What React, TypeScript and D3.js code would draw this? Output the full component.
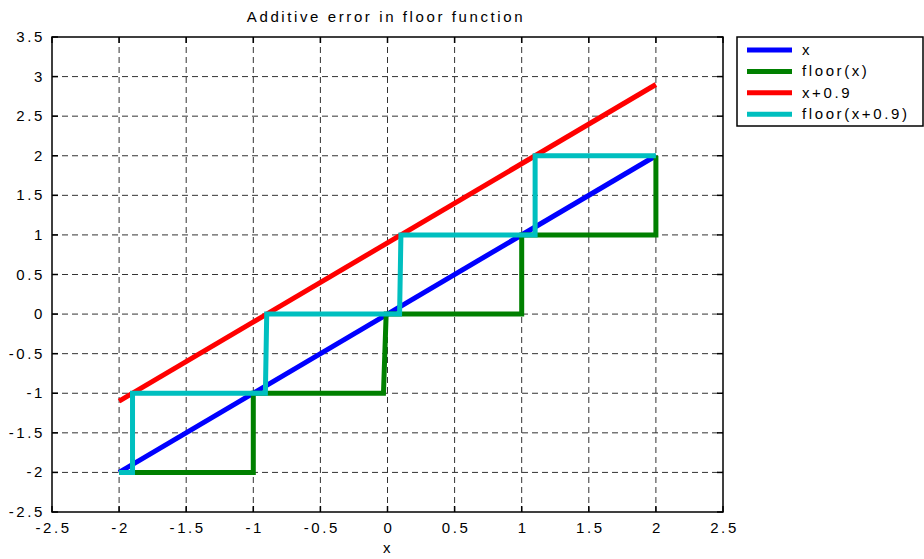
import React, { useEffect, useRef } from "react";
import * as d3 from "d3";

// MATLAB-style plot of floor() error, vertices

const xTicks = [-2.5, -2, -1.5, -1, -0.5, 0, 0.5, 1, 1.5, 2, 2.5];
const yTicks = [-2.5, -2, -1.5, -1, -0.5, 0, 0.5, 1, 1.5, 2, 2.5, 3, 3.5];

const lineX: [number, number][] = [[-2, -2], [2, 2]];
const floorX: [number, number][] = [
  [-2, -2], [-1, -2], [-1, -1], [-0.03, -1], [-0.01, 0],
  [1, 0], [1, 1], [2, 1], [2, 2],
];
const lineXPlus: [number, number][] = [[-2, -1.1], [2, 2.9]];
const floorXPlus: [number, number][] = [
  [-2, -2], [-1.9, -2], [-1.9, -1], [-0.91, -1], [-0.9, 0],
  [0.09, 0], [0.1, 1], [1.1, 1], [1.1, 2], [2, 2],
];

const seriesNames = ["x", "floor(x)", "x+0.9", "floor(x+0.9)"];
const seriesColors = ["#0000ff", "#008000", "#ff0000", "#00bfbf"];
const seriesData = [lineX, floorX, lineXPlus, floorXPlus];

const W = 924;
const H = 559;
const font = "'Liberation Sans', Arial, Helvetica, sans-serif";

export default function App() {
  const svgRef = useRef<SVGSVGElement>(null);

  useEffect(() => {
    const svg = d3.select(svgRef.current);
    svg.selectAll("*").remove();

    const left = 52, right = 723, top = 37, bottom = 512;
    const x = d3.scaleLinear().domain([-2.5, 2.5]).range([left, right]);
    const y = d3.scaleLinear().domain([-2.5, 3.5]).range([bottom, top]);

    svg.append("rect").attr("width", W).attr("height", H).attr("fill", "#fff");

    // grid
    const grid = svg.append("g").attr("stroke", "#333").attr("stroke-width", 1)
      .attr("stroke-dasharray", "6,4").attr("fill", "none");
    xTicks.slice(1, -1).forEach((t) => {
      grid.append("line").attr("x1", x(t)).attr("x2", x(t))
        .attr("y1", top).attr("y2", bottom);
    });
    yTicks.slice(1, -1).forEach((t) => {
      grid.append("line").attr("y1", y(t)).attr("y2", y(t))
        .attr("x1", left).attr("x2", right);
    });

    // series
    const line = d3.line<[number, number]>().x((d) => x(d[0])).y((d) => y(d[1]));
    seriesData.forEach((d, i) => {
      svg.append("path").datum(d).attr("d", line)
        .attr("fill", "none").attr("stroke", seriesColors[i])
        .attr("stroke-width", 5).attr("stroke-linejoin", "miter");
    });

    // box and ticks
    const ax = svg.append("g").attr("stroke", "#000").attr("stroke-width", 1.5).attr("fill", "none");
    ax.append("rect").attr("x", left).attr("y", top)
      .attr("width", right - left).attr("height", bottom - top);
    const tl = 6;
    xTicks.forEach((t) => {
      ax.append("line").attr("x1", x(t)).attr("x2", x(t)).attr("y1", bottom).attr("y2", bottom - tl);
      ax.append("line").attr("x1", x(t)).attr("x2", x(t)).attr("y1", top).attr("y2", top + tl);
    });
    yTicks.forEach((t) => {
      ax.append("line").attr("y1", y(t)).attr("y2", y(t)).attr("x1", left).attr("x2", left + tl);
      ax.append("line").attr("y1", y(t)).attr("y2", y(t)).attr("x1", right).attr("x2", right - tl);
    });

    const txt = svg.append("g").attr("font-family", font).attr("font-size", 15)
      .attr("fill", "#000").style("letter-spacing", "2.6px");
    xTicks.forEach((t) => {
      txt.append("text").attr("x", x(t) + 1.5).attr("y", bottom + 21)
        .attr("text-anchor", "middle").text(String(t));
    });
    yTicks.forEach((t) => {
      txt.append("text").attr("x", left - 7).attr("y", y(t) + 5)
        .attr("text-anchor", "end").text(String(t));
    });
    txt.append("text").attr("x", 386).attr("y", 22)
      .attr("text-anchor", "middle").text("Additive error in floor function");
    txt.append("text").attr("x", 388).attr("y", 553)
      .attr("text-anchor", "middle").text("x");

    // legend
    const lg = svg.append("g");
    lg.append("rect").attr("x", 737).attr("y", 37).attr("width", 186).attr("height", 89)
      .attr("fill", "#fff").attr("stroke", "#000").attr("stroke-width", 1.5);
    seriesNames.forEach((name, i) => {
      const ry = 50 + i * 21.4;
      lg.append("line").attr("x1", 747).attr("x2", 792).attr("y1", ry).attr("y2", ry)
        .attr("stroke", seriesColors[i]).attr("stroke-width", 5);
      lg.append("text").attr("x", 802).attr("y", ry + 5)
        .attr("font-family", font).attr("font-size", 15).style("letter-spacing", "2.6px")
        .text(name);
    });
  }, []);

  return (
    <svg ref={svgRef} width={W} height={H}
      style={{ position: "absolute", left: 0, top: 0, display: "block" }} />
  );
}
